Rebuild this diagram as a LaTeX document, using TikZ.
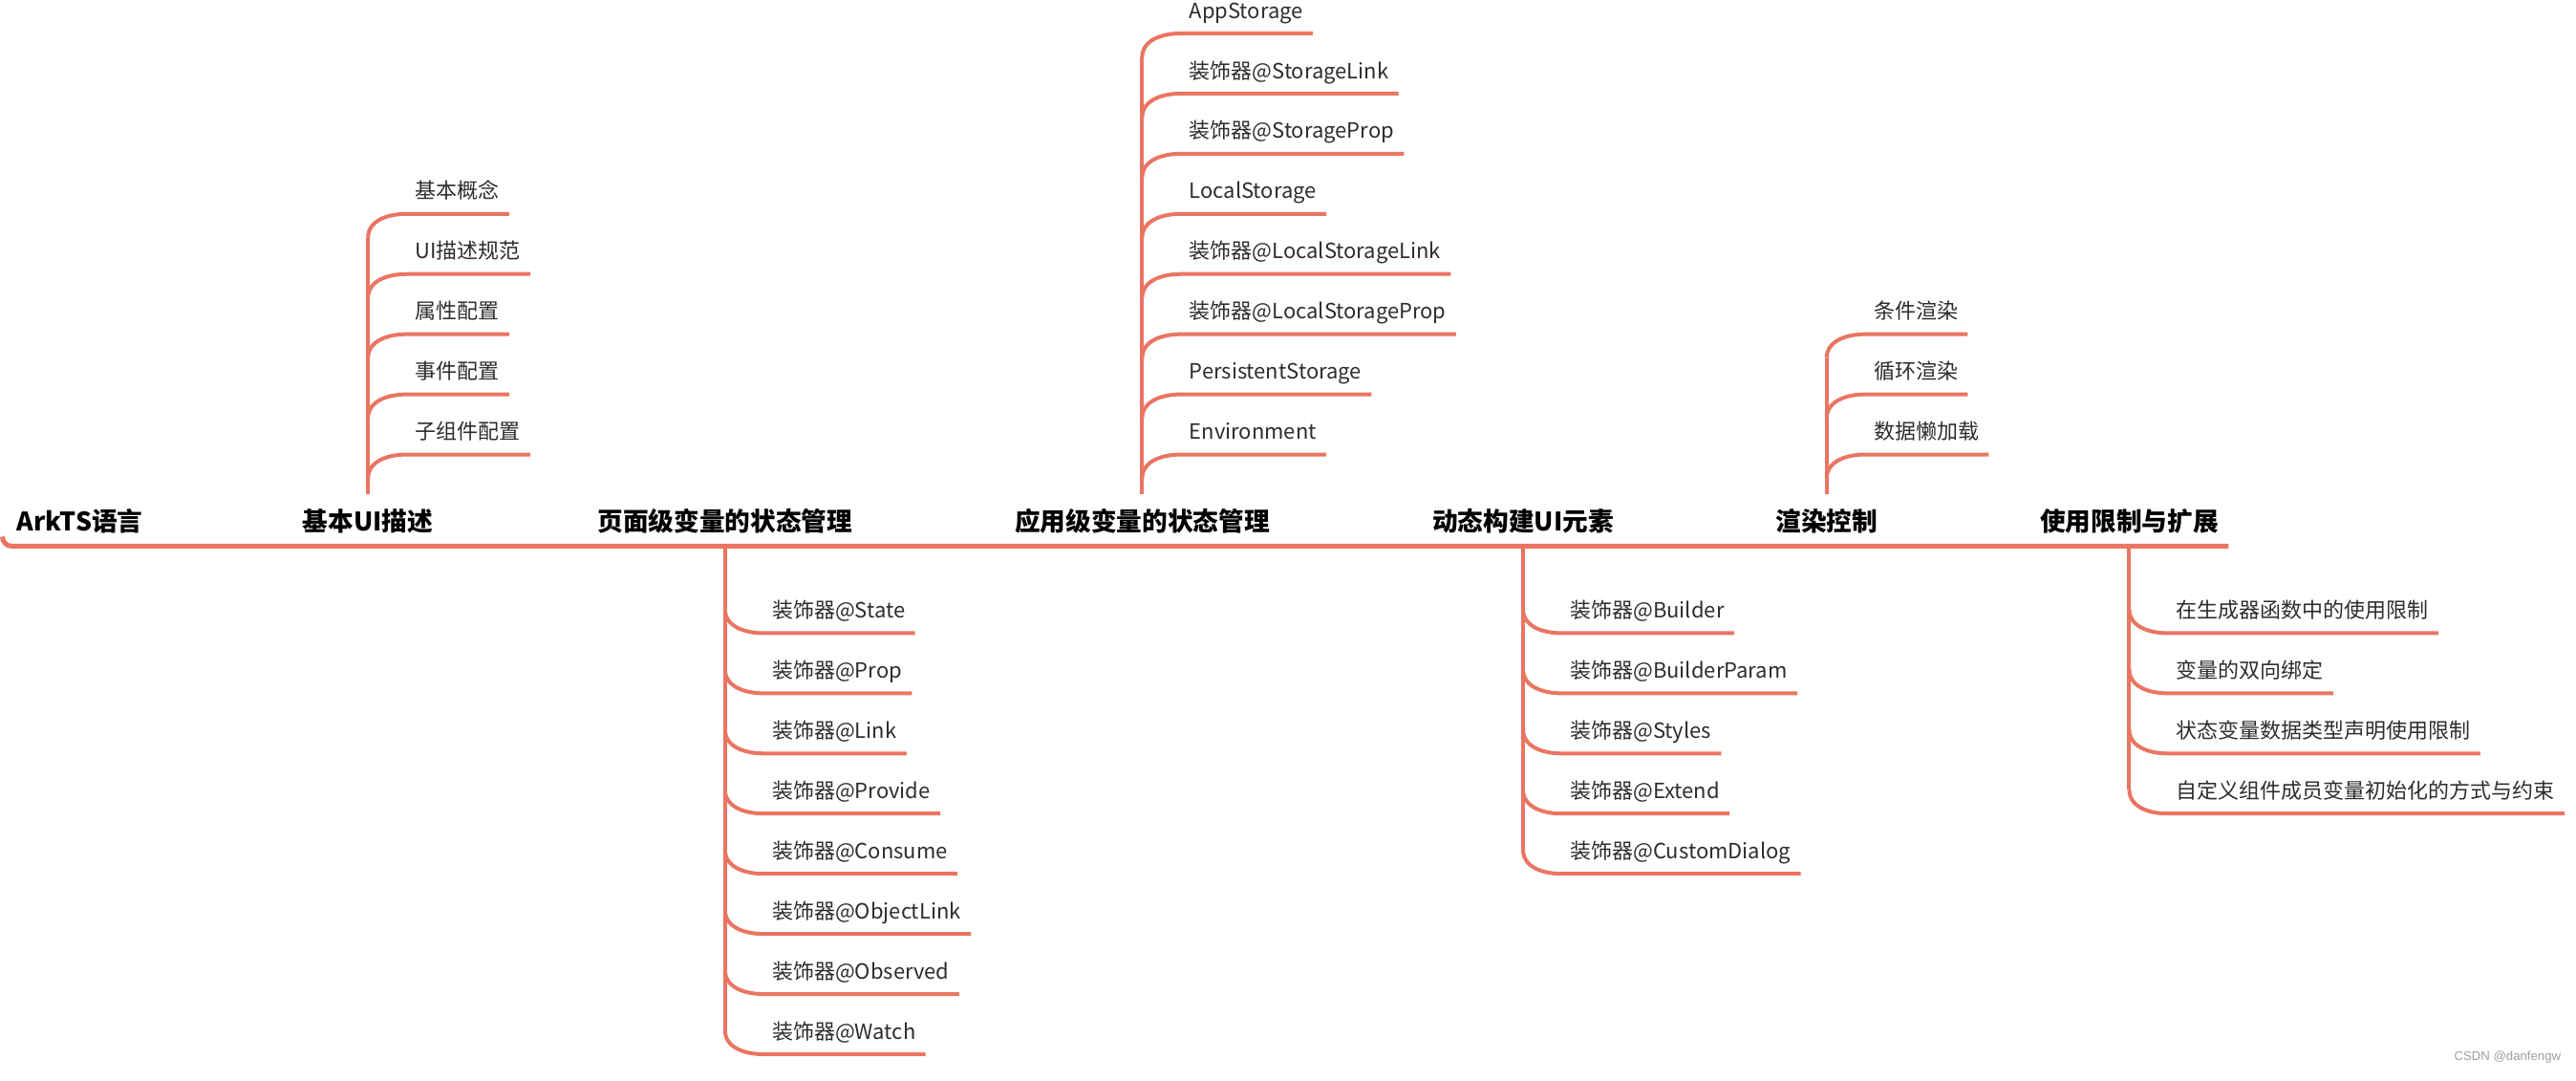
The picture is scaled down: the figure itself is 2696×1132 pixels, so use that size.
\documentclass[tikz,border=0pt]{standalone}
\usepackage{fontspec}
\newfontfamily\cjk{Noto Sans CJK SC}
\newfontfamily\wmfont{Liberation Sans}
\usepackage{tikz}
\definecolor{coral}{RGB}{234,117,98}
\definecolor{leafgray}{RGB}{45,45,45}
\definecolor{wmgray}{RGB}{160,160,160}
\tikzset{
  topic/.style={
    font=\cjk\bfseries\fontsize{13.35}{16}\selectfont,
    text=black, inner sep=0pt, anchor=base
  },
  leaf/.style={
    font=\cjk\fontsize{11}{13}\selectfont,
    text=leafgray, inner sep=0pt,
    text height=9pt, text depth=7.75pt, anchor=south west
  },
  trunk/.style={draw=coral, line width=2.5pt},
  twig/.style={draw=coral, line width=2pt}
}

\begin{document}
\begin{tikzpicture}[x=0.5pt, y=-0.5pt]

  \fill[white] (0,0) rectangle (2696,1132);

  % --- Titres sur la ligne principale ---
  \node[topic] (arkts) at (81,556) {ArkTS语言};
  \node[topic] (jiben) at (383,556) {基本UI描述};
  \node[topic] (yemian) at (757,556) {页面级变量的状态管理};
  \node[topic] (yingyong) at (1194,556) {应用级变量的状态管理};
  \node[topic] (dongtai) at (1593,556) {动态构建UI元素};
  \node[topic] (xuanran) at (1911,556) {渲染控制};
  \node[topic] (xianzhi) at (2228,556) {使用限制与扩展};

  \coordinate (trunk-w) at (0,572);
  \coordinate (trunk-e) at (2332,572);
  \coordinate (jiben-b) at (jiben |- trunk-w);
  \coordinate (yemian-b) at (yemian |- trunk-w);
  \coordinate (yingyong-b) at (yingyong |- trunk-w);
  \coordinate (dongtai-b) at (dongtai |- trunk-w);
  \coordinate (xuanran-b) at (xuanran |- trunk-w);
  \coordinate (xianzhi-b) at (xianzhi |- trunk-w);

  % --- Base UI (vers le haut) ---
  \node[leaf] (zizujian) at ([shift={(49,-96)}]jiben-b) {子组件配置};
  \node[leaf] (shijian) at ([yshift=31.5pt]zizujian.south west) {事件配置};
  \node[leaf] (shuxing) at ([yshift=31.5pt]shijian.south west) {属性配置};
  \node[leaf] (guifan) at ([yshift=31.5pt]shuxing.south west) {UI描述规范};
  \node[leaf] (gainian) at ([yshift=31.5pt]guifan.south west) {基本概念};

  % --- Etat au niveau page (vers le bas) ---
  \node[leaf] (state) at ([shift={(49,91)}]yemian-b) {装饰器@State};
  \node[leaf] (prop) at ([yshift=-31.5pt]state.south west) {装饰器@Prop};
  \node[leaf] (link) at ([yshift=-31.5pt]prop.south west) {装饰器@Link};
  \node[leaf] (provide) at ([yshift=-31.5pt]link.south west) {装饰器@Provide};
  \node[leaf] (consume) at ([yshift=-31.5pt]provide.south west) {装饰器@Consume};
  \node[leaf] (objlink) at ([yshift=-31.5pt]consume.south west) {装饰器@ObjectLink};
  \node[leaf] (observed) at ([yshift=-31.5pt]objlink.south west) {装饰器@Observed};
  \node[leaf] (watch) at ([yshift=-31.5pt]observed.south west) {装饰器@Watch};

  % --- Etat au niveau application (vers le haut) ---
  \node[leaf] (environ) at ([shift={(49,-96)}]yingyong-b) {Environment};
  \node[leaf] (persist) at ([yshift=31.5pt]environ.south west) {PersistentStorage};
  \node[leaf] (lsprop) at ([yshift=31.5pt]persist.south west) {装饰器@LocalStorageProp};
  \node[leaf] (lslink) at ([yshift=31.5pt]lsprop.south west) {装饰器@LocalStorageLink};
  \node[leaf] (localst) at ([yshift=31.5pt]lslink.south west) {LocalStorage};
  \node[leaf] (stprop) at ([yshift=31.5pt]localst.south west) {装饰器@StorageProp};
  \node[leaf] (stlink) at ([yshift=31.5pt]stprop.south west) {装饰器@StorageLink};
  \node[leaf] (appst) at ([yshift=31.5pt]stlink.south west) {AppStorage};

  % --- Construction dynamique (vers le bas) ---
  \node[leaf] (builder) at ([shift={(49,91)}]dongtai-b) {装饰器@Builder};
  \node[leaf] (bparam) at ([yshift=-31.5pt]builder.south west) {装饰器@BuilderParam};
  \node[leaf] (styles) at ([yshift=-31.5pt]bparam.south west) {装饰器@Styles};
  \node[leaf] (extend) at ([yshift=-31.5pt]styles.south west) {装饰器@Extend};
  \node[leaf] (dialog) at ([yshift=-31.5pt]extend.south west) {装饰器@CustomDialog};

  % --- Rendu (vers le haut) ---
  \node[leaf] (lanjiazai) at ([shift={(49,-96)}]xuanran-b) {数据懒加载};
  \node[leaf] (xunhuan) at ([yshift=31.5pt]lanjiazai.south west) {循环渲染};
  \node[leaf] (tiaojian) at ([yshift=31.5pt]xunhuan.south west) {条件渲染};

  % --- Limites (vers le bas) ---
  \node[leaf] (shengcheng) at ([shift={(49,91)}]xianzhi-b) {在生成器函数中的使用限制};
  \node[leaf] (shuangxiang) at ([yshift=-31.5pt]shengcheng.south west) {变量的双向绑定};
  \node[leaf] (leixing) at ([yshift=-31.5pt]shuangxiang.south west) {状态变量数据类型声明使用限制};
  \node[leaf] (chushihua) at ([yshift=-31.5pt]leixing.south west) {自定义组件成员变量初始化的方式与约束};

  \node[font=\wmfont\fontsize{6.6}{8}\selectfont, text=wmgray, inner sep=0pt, anchor=base west] (csdn) at (2568,1111) {CSDN @danfengw};

  % --- Traits ---
  \draw[trunk] (0,562) to[out=-90,in=180] (10,572) -- (trunk-e);

  \draw[twig] (gainian.south west) ++(-49,25) -- ([yshift=7.5pt]jiben.north);
  \draw[twig] (appst.south west) ++(-49,25) -- ([yshift=7.5pt]yingyong.north);
  \draw[twig] (tiaojian.south west) ++(-49,25) -- ([yshift=7.5pt]xuanran.north);
  \draw[twig] (watch.south west) ++(-49,-25) -- (yemian-b);
  \draw[twig] (dialog.south west) ++(-49,-25) -- (dongtai-b);
  \draw[twig] (chushihua.south west) ++(-49,-25) -- (xianzhi-b);

  \foreach \n in {gainian,guifan,shuxing,shijian,zizujian,appst,stlink,stprop,localst,lslink,lsprop,persist,environ,tiaojian,xunhuan,lanjiazai}
    \draw[twig] (\n.south west) ++(-49,25) to[out=90,in=180] ++(40,-25) -- ([xshift=5pt]\n.south east);
  \foreach \n in {state,prop,link,provide,consume,objlink,observed,watch,builder,bparam,styles,extend,dialog,shengcheng,shuangxiang,leixing,chushihua}
    \draw[twig] (\n.south west) ++(-49,-25) to[out=-90,in=180] ++(40,25) -- ([xshift=5pt]\n.south east);

\end{tikzpicture}
\end{document}
